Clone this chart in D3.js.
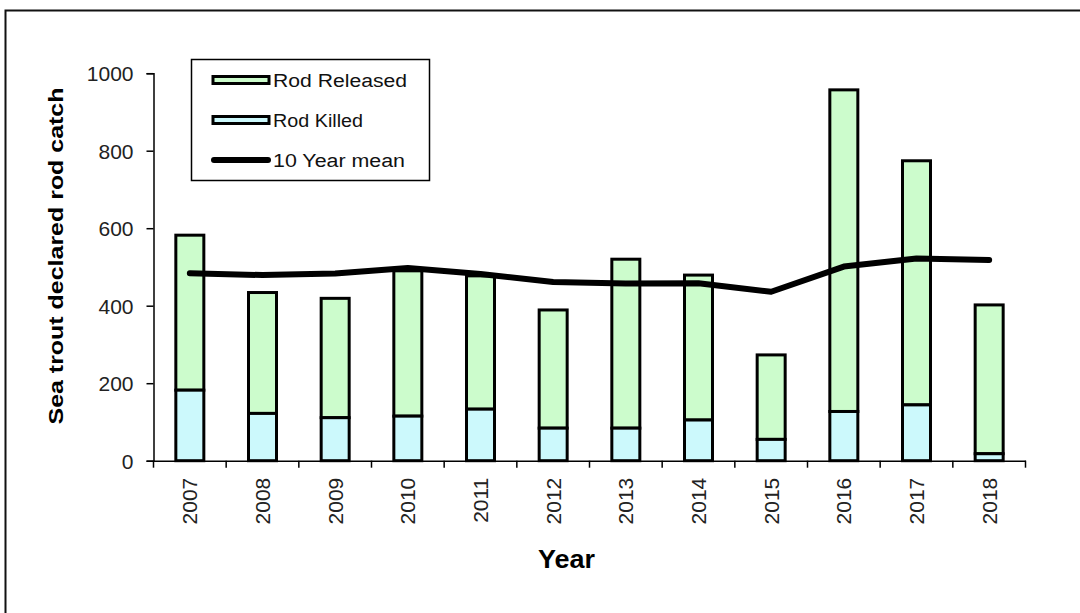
<!DOCTYPE html>
<html>
<head>
<meta charset="utf-8">
<script src="https://cdn.jsdelivr.net/npm/d3@7"></script>
<style>
  body { margin: 0; background: #fff; }
  svg { display: block; font-family: Arial, "Liberation Sans", sans-serif; }
</style>
</head>
<body>
<svg width="1080" height="613"></svg>
<script>
let years = ['2007', '2008', '2009', '2010', '2011', '2012', '2013', '2014', '2015', '2016', '2017', '2018'];
let totals = [582, 434, 419, 490, 477, 389, 520, 479, 273, 957, 774, 402];
let killed = [182, 122, 111, 115, 133, 84, 84, 105, 55, 127, 144, 18];
let mean10 = [484, 479, 483, 497, 482, 461, 457, 458, 436, 501, 522, 518];
let yTicks = [0, 200, 400, 600, 800, 1000];
let legendLabels = ['Rod Released', 'Rod Killed', '10 Year mean'];

let svg = d3.select('svg'),
    plotLeft = 153.5,
    plotRight = 1025.5,
    plotTop = 73.2,
    plotBottom = 460.7;

// outer frame (runs off the right and bottom edge)
svg.append('rect')
    .attr('x', 5.5).attr('y', 10.5)
    .attr('width', 1200).attr('height', 700)
    .attr('fill', 'none').attr('stroke', '#111').attr('stroke-width', 2);

let x = d3.scaleBand().domain(years).range([plotLeft, plotRight]).padding(0);
let y = d3.scaleLinear().domain([0, 1000]).range([plotBottom, plotTop]);

// y axis
let yAxis = svg.append('g')
    .attr('transform', 'translate(' + plotLeft + ',0)')
    .call(d3.axisLeft(y).tickValues(yTicks).tickSize(7).tickPadding(13).tickFormat(d3.format('d')));
yAxis.select('.domain').attr('stroke', '#000').attr('stroke-width', 1.5);
yAxis.selectAll('.tick line').attr('stroke', '#000').attr('stroke-width', 1.5);
yAxis.selectAll('.tick text')
    .attr('font-size', 21).attr('fill', '#222').attr('font-family', 'Arial, "Liberation Sans", sans-serif')
    .attr('dy', '0.36em');

// bars
let barW = 28;
let bars = svg.append('g').attr('stroke', '#000').attr('stroke-width', 3);
bars.selectAll('.rel')
    .data(years)
    .enter().append('rect')
    .attr('class', 'rel')
    .attr('x', function(d) { return x(d) + x.bandwidth() / 2 - barW / 2; })
    .attr('width', barW)
    .attr('y', function(d, i) { return y(totals[i]); })
    .attr('height', function(d, i) { return y(killed[i]) - y(totals[i]); })
    .attr('fill', '#ccfccc');
bars.selectAll('.kil')
    .data(years)
    .enter().append('rect')
    .attr('class', 'kil')
    .attr('x', function(d) { return x(d) + x.bandwidth() / 2 - barW / 2; })
    .attr('width', barW)
    .attr('y', function(d, i) { return y(killed[i]); })
    .attr('height', function(d, i) { return y(0) - y(killed[i]); })
    .attr('fill', '#ccf9fc');

// x axis
let xAxis = svg.append('g')
    .attr('transform', 'translate(0,' + plotBottom + ')')
    .call(d3.axisBottom(x).tickSize(0).tickSizeOuter(0));
xAxis.select('.domain').attr('stroke', '#000').attr('stroke-width', 1.5);
xAxis.selectAll('.tick text')
    .attr('font-size', 21).attr('fill', '#222').attr('font-family', 'Arial, "Liberation Sans", sans-serif')
    .attr('transform', 'rotate(-90)')
    .attr('x', -17).attr('y', 0).attr('dy', '0.36em')
    .style('text-anchor', 'end');
// tick marks between categories
svg.append('g').selectAll('line')
    .data(years.concat(['end']))
    .enter().append('line')
    .attr('x1', function(d, i) { return i < years.length ? x(d) : plotRight; })
    .attr('x2', function(d, i) { return i < years.length ? x(d) : plotRight; })
    .attr('y1', plotBottom).attr('y2', plotBottom + 7)
    .attr('stroke', '#000').attr('stroke-width', 1.5);

// 10 year mean line
let line = d3.line()
    .x(function(d, i) { return x(years[i]) + x.bandwidth() / 2; })
    .y(function(d) { return y(d); });
svg.append('path')
    .datum(mean10)
    .attr('d', line)
    .attr('fill', 'none').attr('stroke', '#000').attr('stroke-width', 6)
    .attr('stroke-linecap', 'round').attr('stroke-linejoin', 'round');

// axis titles
svg.append('text')
    .attr('transform', 'translate(63,256) rotate(-90)')
    .attr('text-anchor', 'middle')
    .attr('font-size', 21).attr('font-weight', 'bold')
    .attr('textLength', 337).attr('lengthAdjust', 'spacingAndGlyphs')
    .text('Sea trout declared rod catch');
svg.append('text')
    .attr('x', 538).attr('y', 568)
    .attr('font-size', 25).attr('font-weight', 'bold')
    .attr('textLength', 57).attr('lengthAdjust', 'spacingAndGlyphs')
    .text('Year');

// legend
let lg = svg.append('g');
lg.append('rect')
    .attr('x', 191.5).attr('y', 59.5).attr('width', 238).attr('height', 121)
    .attr('fill', '#fff').attr('stroke', '#000').attr('stroke-width', 1.5);
let rowY = [80, 120, 160];
let swatchFill = ['#ccfccc', '#ccf9fc'];
lg.selectAll('.sw')
    .data(swatchFill)
    .enter().append('rect')
    .attr('x', 213).attr('width', 56)
    .attr('y', function(d, i) { return rowY[i] - 3.5; })
    .attr('height', 7)
    .attr('fill', function(d) { return d; })
    .attr('stroke', '#000').attr('stroke-width', 3);
lg.append('line')
    .attr('x1', 214).attr('x2', 268)
    .attr('y1', rowY[2]).attr('y2', rowY[2])
    .attr('stroke', '#000').attr('stroke-width', 6).attr('stroke-linecap', 'round');
let lgLen = [134, 90, 132];
lg.selectAll('.lt')
    .data(legendLabels)
    .enter().append('text')
    .attr('x', 273)
    .attr('y', function(d, i) { return rowY[i] + 6.5; })
    .attr('font-size', 18).attr('fill', '#111')
    .attr('textLength', function(d, i) { return lgLen[i]; })
    .attr('lengthAdjust', 'spacingAndGlyphs')
    .text(function(d) { return d; });
</script>
</body>
</html>
